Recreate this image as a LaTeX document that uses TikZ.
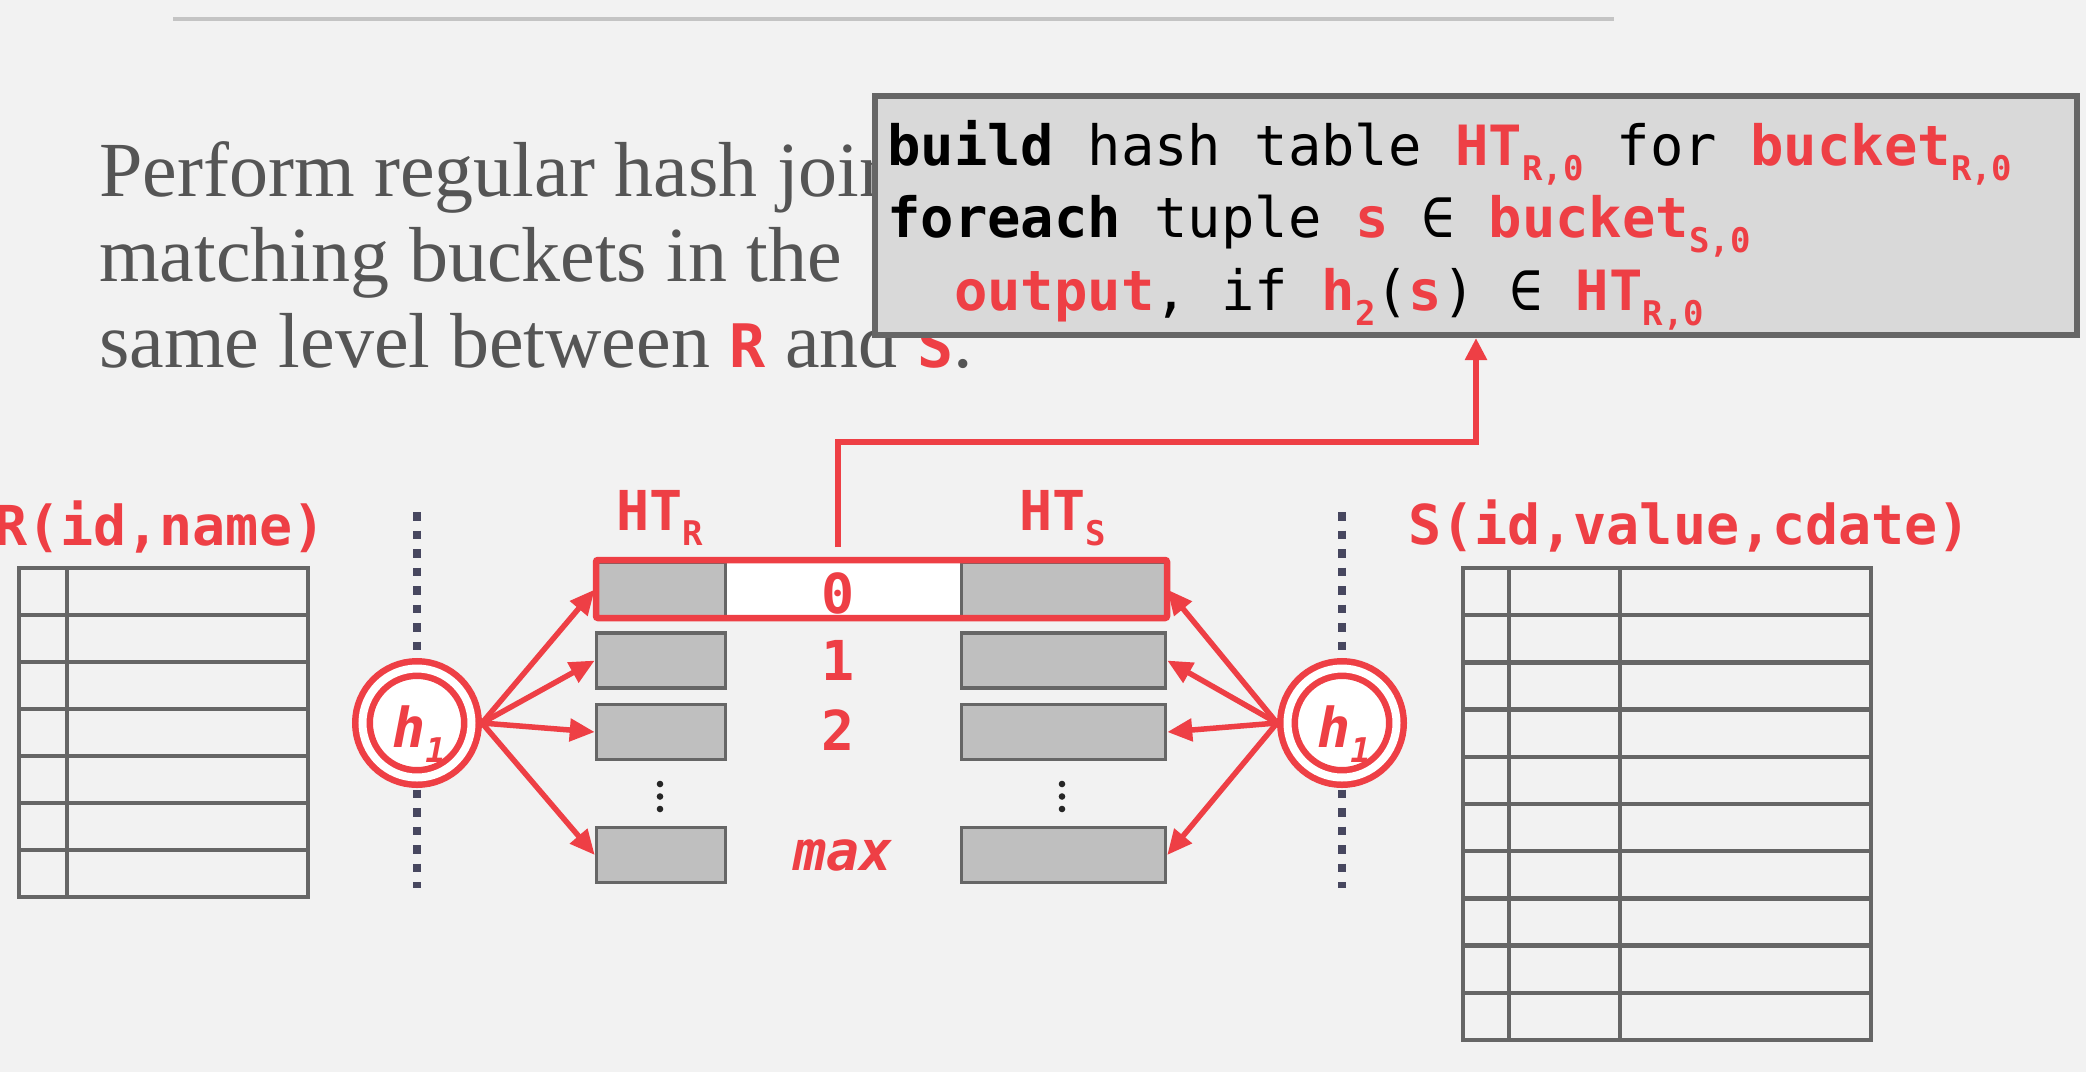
\documentclass[tikz,border=0pt]{standalone}
\usepackage{fontspec}
\setmainfont{Liberation Serif}
\setmonofont{DejaVu Sans Mono}
\usetikzlibrary{arrows.meta,calc}
\definecolor{cmured}{HTML}{EE3F45}
\definecolor{bgc}{HTML}{F2F2F2}
\definecolor{bodyc}{HTML}{555555}
\definecolor{boxc}{HTML}{BFBFBF}
\definecolor{edgec}{HTML}{666666}
\definecolor{codec}{HTML}{D9D9D9}
\definecolor{dotc}{HTML}{47475F}
\definecolor{rulec}{HTML}{C4C4C4}
\newcommand\codefont{\ttfamily\fontsize{55.5}{66}\selectfont}
\newcommand\lblfont{\ttfamily\bfseries\fontsize{55}{66}\selectfont}
\newcommand\csub[1]{\raisebox{-15pt}{\fontsize{34}{40}\selectfont #1}}
\newcommand\redb[1]{\textcolor{cmured}{\bfseries #1}}
\newcommand\inl[1]{\textcolor{cmured}{\ttfamily\bfseries\fontsize{60}{70}\selectfont #1}}
\tikzset{
  bodytext/.style={anchor=base west, inner sep=0pt, text=bodyc, font=\fontsize{78}{86}\selectfont},
  codeline/.style={anchor=base west, inner sep=0pt, text=black, font=\codefont},
  lbl/.style={anchor=base west, inner sep=0pt, text=cmured, font=\lblfont},
  num/.style={anchor=base, inner sep=0pt, text=cmured, font=\lblfont},
  bucket/.style={draw=edgec, fill=boxc, line width=3.5pt, minimum height=55pt, inner sep=0pt},
  hcirc/.style={circle, draw=cmured, line width=6.5pt, double=white, double distance=8pt, fill=white, minimum size=109pt, inner sep=0pt, outer sep=10.5pt},
  hlab/.style={anchor=base west, inner sep=0pt, text=cmured, font=\ttfamily\bfseries\itshape\fontsize{55}{60}\selectfont},
  arr/.style={draw=cmured, line width=5.5pt, -{Triangle[length=25pt,width=22pt]}},
  route/.style={draw=cmured, line width=6pt, -{Triangle[length=22pt,width=21pt]}},
  tbl/.style={draw=edgec, line width=4.5pt},
  dotline/.style={draw=dotc, line width=8.5pt, dash pattern=on 8.5pt off 10pt},
}
\begin{document}
\begin{tikzpicture}[x=1pt,y=-1pt]
\useasboundingbox (0,0) rectangle (2086,1072);
\fill[bgc] (0,0) rectangle (2086,1072);
% top rule
\draw[rulec, line width=4pt] (173,19) -- (1614,19);
% body text
\node[bodytext] (t1) at (99,196) {Perform regular hash join};
\node[bodytext] (t2) at (99,281) {matching buckets in the};
\node[bodytext] (t3) at (99,367) {same level between \inl{R} and \inl{S}.};
% code box
\node[draw=edgec, fill=codec, line width=6pt, minimum width=1202pt, minimum height=239pt, inner sep=0pt] (code) at (1476,215.5) {};
\node[codeline] (c1) at (887,165) {{\bfseries build} hash table \redb{HT\csub{R,0}} for \redb{bucket\csub{R,0}}};
\node[codeline] (c2) at (887,237) {{\bfseries foreach} tuple \redb{s} ∈ \redb{bucket\csub{S,0}}};
\node[codeline] (c3) at (887,310) {\phantom{xx}\redb{output}, if \redb{h\csub{2}}(\redb{s}) ∈ \redb{HT\csub{R,0}}};
% relation labels
\node[lbl] (rlab) at (-6,545) {R(id,name)};
\node[lbl] (slab) at (1408,544) {S(id,value,cdate)};
% R table
\draw[tbl] (19,568) rectangle (308,897);
\draw[tbl] (67,568) -- (67,897);
\foreach \i in {1,...,6} \draw[tbl] (19,568+47*\i) -- (308,568+47*\i);
% S table
\draw[tbl] (1463,568) rectangle (1871,1040);
\draw[tbl] (1509,568) -- (1509,1040);
\draw[tbl] (1620,568) -- (1620,1040);
\foreach \i in {1,...,9} \draw[tbl] (1463,568+47.2*\i) -- (1871,568+47.2*\i);
% dotted partition lines
\draw[dotline] (417,512) -- (417,888);
\draw[dotline] (1342,512) -- (1342,888);
% hash function circles
\node[hcirc] (hL) at (417,723) {};
\node[hcirc] (hS) at (1342,723) {};
\node[hlab] (hLt) at (392,747) {h\csub{1}};
\node[hlab] (hSt) at (1317,747) {h\csub{1}};
% highlight background
\node[fill=white, minimum width=571pt, minimum height=58pt, inner sep=0pt, outer sep=0pt] (hl) at (881.5,589) {};
% buckets
\node[bucket, minimum width=129pt] (bR0) at (661,589.5) {};
\node[bucket, minimum width=129pt] (bR1) at (661,660.5) {};
\node[bucket, minimum width=129pt] (bR2) at (661,732) {};
\node[bucket, minimum width=129pt] (bRm) at (661,855) {};
\node[bucket, minimum width=204pt] (bS0) at (1063.5,589.5) {};
\node[bucket, minimum width=204pt] (bS1) at (1063.5,660.5) {};
\node[bucket, minimum width=204pt] (bS2) at (1063.5,732) {};
\node[bucket, minimum width=204pt] (bSm) at (1063.5,855) {};
\draw[cmured, line width=6.5pt, rounded corners=2pt] (hl.north west) rectangle (hl.south east);
% ellipsis dots
\foreach \x in {660,1062} {
  \fill[black!85] (\x,784) circle (3.3);
  \fill[black!85] (\x,796.5) circle (3.3);
  \fill[black!85] (\x,809) circle (3.3);
}
% labels
\node[lbl] (htR) at (616,530) {HT\csub{R}};
\node[lbl] (htS) at (1019,530) {HT\csub{S}};
\node[num] (l0) at (838,613) {0};
\node[num] (l1) at (838,680) {1};
\node[num] (l2) at (838,750) {2};
\node[num, font=\lblfont\itshape] (lm) at (843,870) {max};
% arrows
\draw[arr] (hL.east) -- (bR0.west);
\draw[arr] (hL.east) -- (bR1.west);
\draw[arr] (hL.east) -- (bR2.west);
\draw[arr] (hL.east) -- (bRm.west);
\draw[arr] (hS.west) -- (bS0.east);
\draw[arr] (hS.west) -- (bS1.east);
\draw[arr] (hS.west) -- (bS2.east);
\draw[arr] (hS.west) -- (bSm.east);
% route to code box
\coordinate (vstart) at ($(hl.north -| l0)+(0,-13)$);
\draw[route] (vstart) |- ($(code.south)+(0,104)$) -- (code.south);
\end{tikzpicture}
\end{document}
